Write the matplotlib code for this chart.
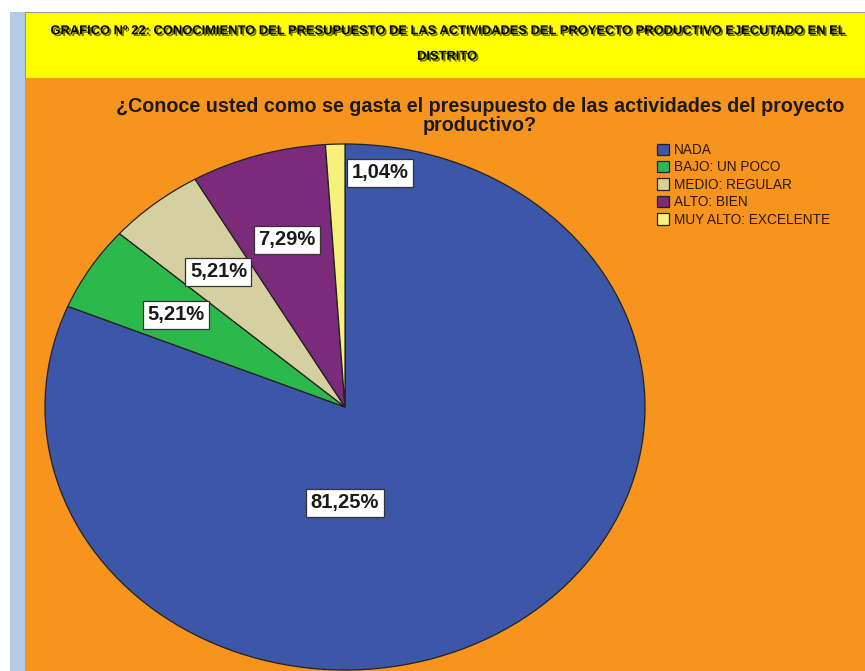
import matplotlib
matplotlib.use('Agg')
import matplotlib.pyplot as plt
import matplotlib.patheffects as pe
from matplotlib.patches import Rectangle

categorias = ['NADA', 'BAJO: UN POCO', 'MEDIO: REGULAR', 'ALTO: BIEN', 'MUY ALTO: EXCELENTE']
porcentajes = [81.25, 5.21, 5.21, 7.29, 1.04]
colores = ['#3c56a8', '#2db84b', '#d6d0a0', '#7b2a7c', '#f7f07a']

titulo_banner = ('GRAFICO Nº 22: CONOCIMIENTO DEL PRESUPUESTO DE LAS ACTIVIDADES DEL '
                 'PROYECTO PRODUCTIVO EJECUTADO EN EL\nDISTRITO')
titulo = ('¿Conoce usted como se gasta el presupuesto de las actividades del proyecto\n'
          'productivo?')

W, H = 865, 671
fig = plt.figure(figsize=(W / 100, H / 100), dpi=100)
fig.patch.set_facecolor('white')

# fondos: franja azul, banner amarillo, area naranja (detras del pastel)
fig.add_artist(Rectangle((10 / W, 0), 15 / W, 1 - 12 / H, transform=fig.transFigure,
                         facecolor='#b3cbe6', edgecolor='none', zorder=-10))
fig.add_artist(Rectangle((25 / W, 1 - 78 / H), 1 - 25 / W, 66 / H, transform=fig.transFigure,
                         facecolor='#ffff00', edgecolor='#9a9a9a', linewidth=0.8, zorder=-10))
fig.add_artist(Rectangle((25 / W, 0), 1 - 25 / W, 1 - 78 / H, transform=fig.transFigure,
                         facecolor='#f7941d', edgecolor='none', zorder=-10))

fig.text(447 / W, 1 - 44 / H, titulo_banner, ha='center', va='center',
         family=['Liberation Sans', 'DejaVu Sans'], fontweight='bold',
         fontsize=9.3, color='black', linespacing=2.5,
         path_effects=[pe.SimplePatchShadow(offset=(1.3, -1.3), shadow_rgbFace='#4a4a00', alpha=0.8),
                       pe.Normal()])

fig.text(480 / W, 1 - 116 / H, titulo, ha='center', va='center',
         family=['Liberation Sans', 'DejaVu Sans'], fontweight='bold',
         fontsize=14.2, color='#1a1a1a', linespacing=0.95)

# pastel eliptico
ax = fig.add_axes([45 / W, 1 - 670 / H, 600 / W, 526 / H])
wedges, textos, autotextos = ax.pie(
    porcentajes, colors=colores, startangle=90, counterclock=False,
    autopct=lambda p: f'{p:.2f}%'.replace('.', ','), pctdistance=0.665,
    wedgeprops=dict(edgecolor='#222222', linewidth=0.9),
    textprops=dict(family=['Liberation Sans', 'DejaVu Sans'], fontweight='bold',
                   fontsize=14.5, color='#1a1a1a'))
ax.set_aspect('auto')
ax.set_xlim(-1, 1)
ax.set_ylim(-1, 1)
ax.axis('off')

# etiquetas fuera de su posicion central, como en el original
autotextos[0].set_position((0, -0.365))
autotextos[4].set_position((0.117, 0.89))
for t in autotextos:
    t.set_bbox(dict(boxstyle='square,pad=0.22', facecolor='white',
                    edgecolor='#333333', linewidth=0.9))

fig.legend(wedges, categorias, loc='upper left', bbox_to_anchor=(657 / W, 1 - 143 / H),
           frameon=False, prop=dict(family=['Liberation Sans', 'DejaVu Sans'], size=9.8),
           handlelength=0.9, handleheight=0.9, handletextpad=0.35, labelspacing=0.25,
           borderpad=0, borderaxespad=0, labelcolor='#2a1a00')

fig.savefig('out.png', dpi=100)
